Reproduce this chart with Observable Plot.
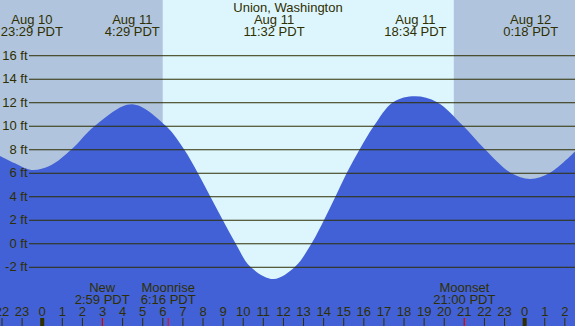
<!DOCTYPE html>
<html><head><meta charset="utf-8">
<script src="https://cdn.jsdelivr.net/npm/d3@7"></script>
<script src="https://cdn.jsdelivr.net/npm/@observablehq/plot@0.6"></script>
<style>html,body{margin:0;padding:0;background:#fff;} svg{display:block}</style>
</head><body><div id="chart"></div>
<script>
// Hours relative to Aug 11 00:00 PDT; heights in feet
const tideHours = [-2.075, -1.33, -0.517, 0.41, 1.49, 2.65, 4.483, 6.17, 7.08, 7.76, 8.38, 9.0, 9.64, 10.38, 11.533, 12.6, 13.43, 14.05, 14.62, 15.18, 15.82, 16.53, 17.48, 18.567, 19.67, 20.96, 22.05, 23.33, 24.3, 25.29, 26.53];
const tideFeet  = [7.43, 6.8, 6.24, 6.6, 8.0, 10.0, 11.83, 10.0, 8.0, 6.0, 4.0, 2.0, 0.0, -2.0, -3.04, -2.0, 0.0, 2.0, 4.0, 6.0, 8.0, 10.0, 12.0, 12.5, 12.0, 10.0, 8.0, 6.0, 5.47, 6.0, 7.8];

const title = "Union, Washington";
const extremaHours = [-0.517, 4.483, 11.533, 18.567, 24.3];
const extremaDates = ["Aug 10", "Aug 11", "Aug 11", "Aug 11", "Aug 12"];
const extremaTimes = ["23:29 PDT", "4:29 PDT", "11:32 PDT", "18:34 PDT", "0:18 PDT"];

const moonHours = [2.983, 6.267, 21.0];
const moonNames = ["New", "Moonrise", "Moonset"];
const moonTimes = ["2:59 PDT", "6:16 PDT", "21:00 PDT"];

const sunrise = 6.02;
const sunset = 20.5;

const gridFeet = [-2, 0, 2, 4, 6, 8, 10, 12, 14, 16];
const hourTicks = d3.range(-2, 27);
const midnights = [0, 24];

const xDomain = [-2.075, 26.53];
const yDomain = [-7.04, 20.7];

const tide = tideHours.map((h, i) => ({h, v: tideFeet[i]}));
const extrema = extremaHours.map((t, i) => ({t, date: extremaDates[i], time: extremaTimes[i]}));
const moon = moonHours.map((t, i) => ({t, name: moonNames[i], time: moonTimes[i]}));
const night = [{start: xDomain[0], end: sunrise}, {start: sunset, end: xDomain[1]}];

const ink = "#2f2f00";

const chart = Plot.plot({
  width: 575, height: 326, margin: 0,
  x: {domain: xDomain, axis: null},
  y: {domain: yDomain, axis: null},
  style: {fontFamily: "'Liberation Sans', Arial, sans-serif", fontSize: "13px", background: "#ddf6fe", color: ink, overflow: "hidden"},
  marks: [
    Plot.rect(night, {x1: "start", x2: "end", fill: "#b0c4de"}),
    Plot.areaY(tide, {x: "h", y1: yDomain[0], y2: "v", curve: "catmull-rom", fill: "#4261d6"}),
    Plot.ruleY(gridFeet, {stroke: ink, strokeWidth: 1, insetLeft: 29}),
    Plot.text(gridFeet, {y: d => d, text: d => `${d} ft`, frameAnchor: "left", textAnchor: "end", lineAnchor: "middle", dx: 27, fill: ink, fontSize: 13}),
    Plot.text([title], {text: d => d, frameAnchor: "top", lineAnchor: "middle", dy: 7.3, fill: ink, fontSize: 13}),
    Plot.text(extrema, {x: "t", text: d => `${d.date}\n${d.time}`, frameAnchor: "top", lineAnchor: "middle", dy: 25.5, lineHeight: 0.95, fill: ink, fontSize: 13}),
    Plot.text(moon, {x: "t", text: d => `${d.name}\n${d.time}`, frameAnchor: "bottom", lineAnchor: "middle", dy: -32.7, lineHeight: 0.92, fill: ink, fontSize: 13}),
    Plot.ruleX(hourTicks, {x: d => d, stroke: ink, strokeWidth: 1, insetTop: 318}),
    Plot.ruleX(midnights, {x: d => d, stroke: ink, strokeWidth: 4, insetTop: 318}),
    Plot.ruleX(moonHours, {x: d => d, stroke: "#ff0000", strokeWidth: 1, insetTop: 318}),
    Plot.text(hourTicks, {x: d => d, text: d => String(((d % 24) + 24) % 24), frameAnchor: "bottom", lineAnchor: "middle", dy: -14.3, fill: ink, fontSize: 13})
  ]
});
document.getElementById("chart").append(chart);
</script>
</body></html>
